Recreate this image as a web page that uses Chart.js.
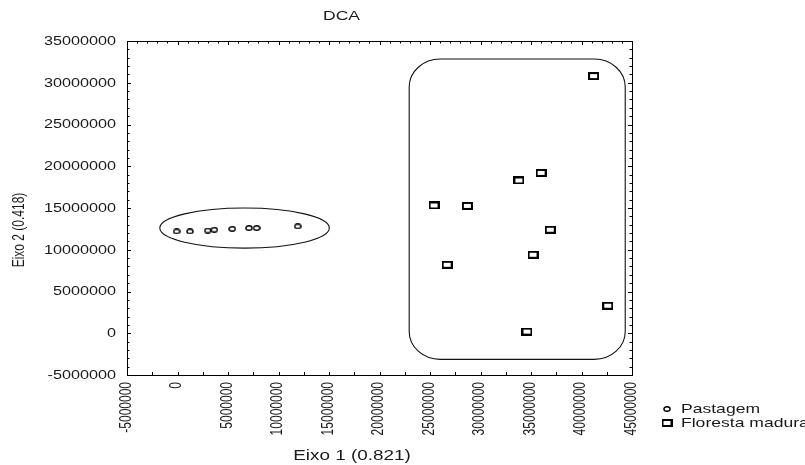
<!DOCTYPE html>
<html><head><meta charset="utf-8">
<script src="https://cdn.jsdelivr.net/npm/chart.js@4"></script>
<style>html,body{margin:0;padding:0;background:#fff;overflow:hidden}</style>
</head><body>
<canvas id="c" width="805" height="465"></canvas>
<script>
// ---- data ----
const pastagemX = [-90000, 1230000, 2990000, 3640000, 5420000, 7070000, 7830000, 11900000];
const pastagemY = [12200000, 12200000, 12300000, 12400000, 12500000, 12600000, 12600000, 12800000];
const florestaX = [41200000, 36000000, 33800000, 25400000, 28700000, 36900000, 35200000, 26700000, 42600000, 34600000];
const florestaY = [30800000, 19200000, 18300000, 15300000, 15250000, 12400000, 9400000, 8200000, 3300000, 200000];
const xTicks = [-5000000, 0, 5000000, 10000000, 15000000, 20000000, 25000000, 30000000, 35000000, 40000000, 45000000];
const yTicks = [-5000000, 0, 5000000, 10000000, 15000000, 20000000, 25000000, 30000000, 35000000];
const seriesNames = ['Pastagem', 'Floresta madura'];
const chartTitle = 'DCA';
const xTitle = 'Eixo 1 (0.821)';
const yTitle = 'Eixo 2 (0.418)';
// group outlines, in data units
const ellipseArea = {cx: 6640000, cy: 12600000, rx: 8390000, ry: 2400000};
const boxArea = {x0: 22940000, x1: 44330000, y0: -3130000, y1: 32840000};

const SX = 1.35; // horizontal stretch of the original picture
const FONT = '"Liberation Sans", Arial, sans-serif';
const TXT = '#1a1a1a';

function makeCircle() {
  const c = document.createElement('canvas'); c.width = 8; c.height = 6;
  const g = c.getContext('2d');
  g.beginPath(); g.ellipse(4, 3, 3.1, 2.2, 0, 0, Math.PI * 2);
  g.fillStyle = '#fff'; g.fill(); g.lineWidth = 1.4; g.strokeStyle = '#000'; g.stroke();
  return c;
}
function makeSquare() {
  const c = document.createElement('canvas'); c.width = 11; c.height = 8;
  const g = c.getContext('2d');
  g.fillStyle = '#fff'; g.fillRect(1, 1, 9, 6);
  g.lineWidth = 2; g.strokeStyle = '#000'; g.strokeRect(1, 1, 9, 6);
  return c;
}
const circleImg = makeCircle();
const squareImg = makeSquare();

function text(ctx, s, x, y, size, align, baseline, rot) {
  ctx.save();
  ctx.translate(x, y);
  ctx.scale(SX, 1);
  if (rot) ctx.rotate(rot);
  ctx.font = size + 'px ' + FONT;
  ctx.fillStyle = TXT;
  ctx.textAlign = align; ctx.textBaseline = baseline;
  ctx.fillText(s, 0, 0);
  ctx.restore();
}

const decor = {
  id: 'decor',
  beforeDatasetsDraw(chart) {
    const ctx = chart.ctx, xs = chart.scales.x, ys = chart.scales.y;
    ctx.save();
    ctx.strokeStyle = '#111'; ctx.lineWidth = 1.1;
    // ellipse
    const ecx = xs.getPixelForValue(ellipseArea.cx), ecy = ys.getPixelForValue(ellipseArea.cy);
    const erx = xs.getPixelForValue(ellipseArea.cx + ellipseArea.rx) - ecx;
    const ery = ecy - ys.getPixelForValue(ellipseArea.cy + ellipseArea.ry);
    ctx.beginPath(); ctx.ellipse(ecx, ecy, erx, ery, 0, 0, Math.PI * 2); ctx.stroke();
    // rounded box
    const bx0 = xs.getPixelForValue(boxArea.x0), bx1 = xs.getPixelForValue(boxArea.x1);
    const by0 = ys.getPixelForValue(boxArea.y1), by1 = ys.getPixelForValue(boxArea.y0);
    const rx = 31, ry = 28;
    ctx.beginPath();
    ctx.moveTo(bx0 + rx, by0);
    ctx.lineTo(bx1 - rx, by0);
    ctx.ellipse(bx1 - rx, by0 + ry, rx, ry, 0, -Math.PI / 2, 0);
    ctx.lineTo(bx1, by1 - ry);
    ctx.ellipse(bx1 - rx, by1 - ry, rx, ry, 0, 0, Math.PI / 2);
    ctx.lineTo(bx0 + rx, by1);
    ctx.ellipse(bx0 + rx, by1 - ry, rx, ry, 0, Math.PI / 2, Math.PI);
    ctx.lineTo(bx0, by0 + ry);
    ctx.ellipse(bx0 + rx, by0 + ry, rx, ry, 0, Math.PI, Math.PI * 1.5);
    ctx.closePath();
    ctx.stroke();
    ctx.restore();
  },
  afterDraw(chart) {
    const ctx = chart.ctx, xs = chart.scales.x, ys = chart.scales.y, a = chart.chartArea;
    ctx.save();
    ctx.strokeStyle = '#000'; ctx.lineWidth = 1;
    ctx.strokeRect(Math.round(a.left) + 0.5, Math.round(a.top) + 0.5, Math.round(a.right - a.left), Math.round(a.bottom - a.top));
    ctx.beginPath();
    // left & right ticks every 1M
    for (let i = -5; i <= 35; i++) {
      const y = Math.round(ys.getPixelForValue(i * 1e6)) + 0.5;
      const len = i % 5 === 0 ? 4 : 2.5;
      ctx.moveTo(a.left, y); ctx.lineTo(a.left + len, y);
      ctx.moveTo(a.right, y); ctx.lineTo(a.right - len, y);
    }
    // top ticks every 1M
    for (let i = -5; i <= 45; i++) {
      const x = Math.round(xs.getPixelForValue(i * 1e6)) + 0.5;
      const len = i % 5 === 0 ? 4 : 2.5;
      ctx.moveTo(x, a.top); ctx.lineTo(x, a.top + len);
    }
    // bottom ticks every 2.5M
    for (let i = -2; i <= 18; i++) {
      const x = Math.round(xs.getPixelForValue(i * 2.5e6)) + 0.5;
      ctx.moveTo(x, a.bottom); ctx.lineTo(x, a.bottom - 3);
    }
    ctx.stroke();
    ctx.restore();

    // tick labels
    yTicks.forEach(v => text(ctx, String(v), a.left - 11, ys.getPixelForValue(v) + 0.5, 12, 'right', 'middle'));
    xTicks.forEach(v => text(ctx, String(v), xs.getPixelForValue(v) - 0.5, a.bottom + 7, 12, 'right', 'middle', -Math.PI / 2));
    // titles
    text(ctx, chartTitle, 341.5, 16, 13, 'center', 'middle');
    text(ctx, xTitle, 352, 456, 14, 'center', 'middle');
    text(ctx, yTitle, 20, 230, 12, 'center', 'middle', -Math.PI / 2);
    // legend
    ctx.drawImage(circleImg, 667 - 4, 409 - 3);
    ctx.drawImage(squareImg, 667 - 5.5, 423 - 4);
    text(ctx, seriesNames[0], 681, 409, 13, 'left', 'middle');
    text(ctx, seriesNames[1], 681, 423.5, 13, 'left', 'middle');
  }
};

new Chart(document.getElementById('c'), {
  type: 'scatter',
  data: {
    datasets: [
      { label: seriesNames[0], data: pastagemX.map((x, i) => ({x, y: pastagemY[i]})),
        pointStyle: circleImg, pointRadius: 4, pointHoverRadius: 4 },
      { label: seriesNames[1], data: florestaX.map((x, i) => ({x, y: florestaY[i]})),
        pointStyle: squareImg, pointRadius: 5, pointHoverRadius: 5 }
    ]
  },
  options: {
    responsive: false,
    animation: false,
    clip: false,
    layout: { padding: { left: 127, right: 173, top: 41, bottom: 90 } },
    plugins: { legend: { display: false }, title: { display: false }, tooltip: { enabled: false } },
    scales: {
      x: { type: 'linear', display: false, min: -5000000, max: 45000000 },
      y: { type: 'linear', display: false, min: -5000000, max: 35000000 }
    }
  },
  plugins: [decor]
});
</script>
</body></html>
